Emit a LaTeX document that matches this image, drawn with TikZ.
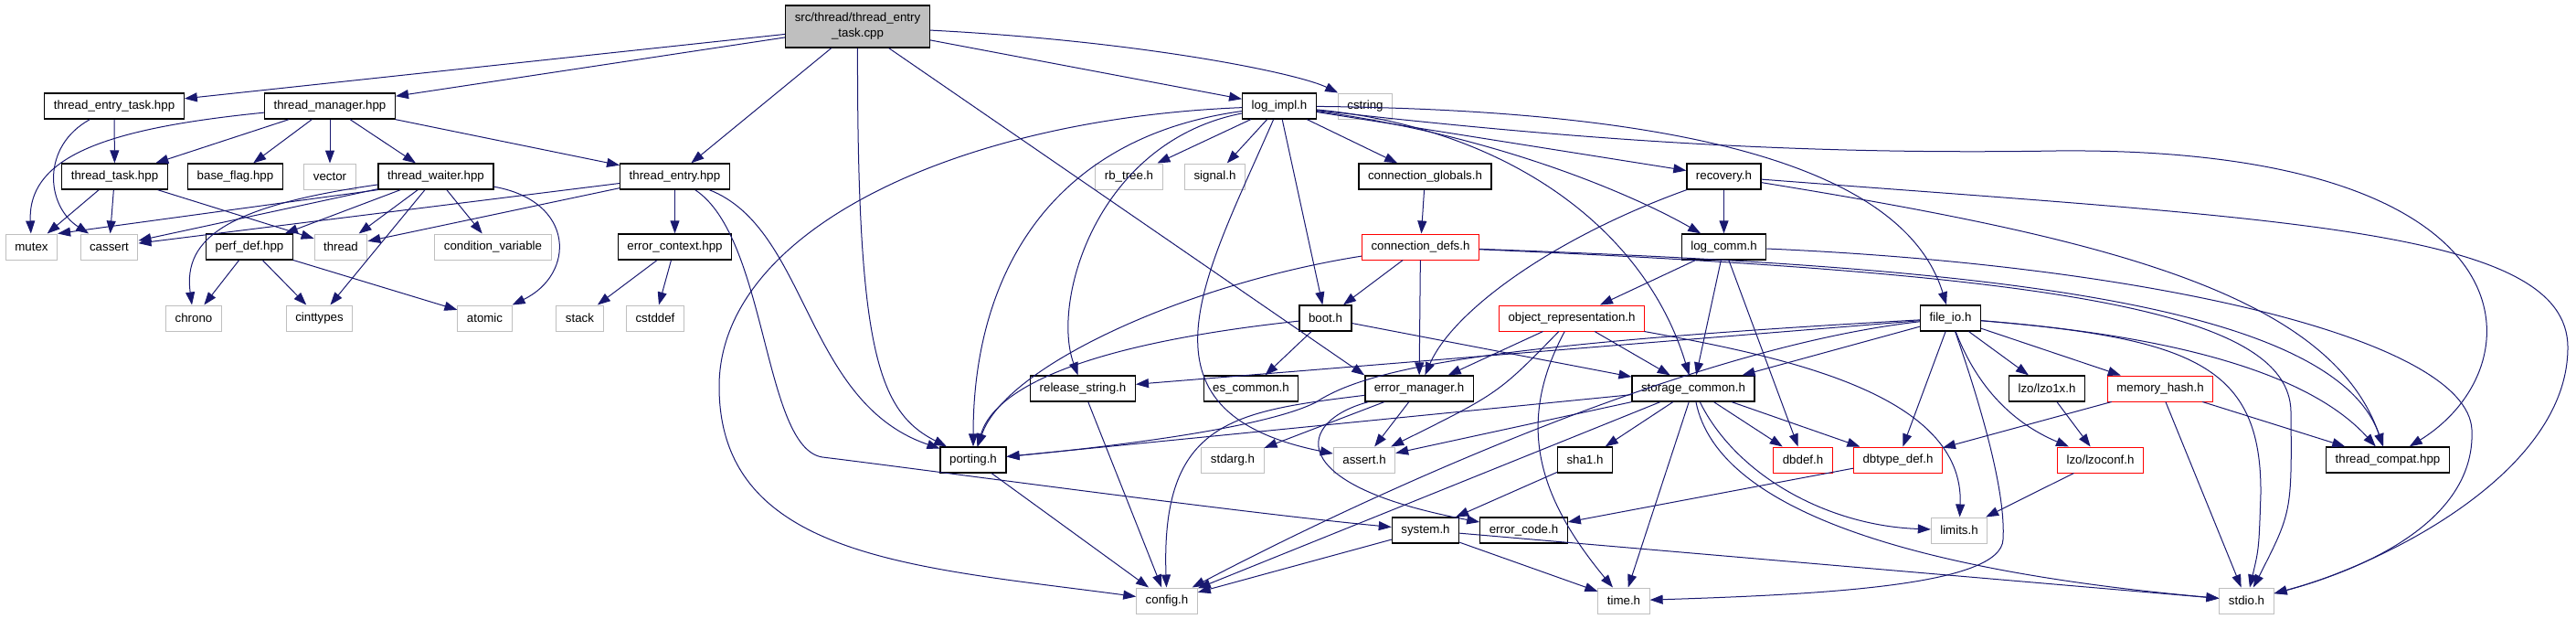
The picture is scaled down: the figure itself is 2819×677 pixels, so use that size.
\documentclass[tikz,border=0pt]{standalone}
\usepackage{fontspec}
\setmainfont{Liberation Sans}
\usetikzlibrary{arrows.meta}
\definecolor{edgeblue}{HTML}{191970}
\definecolor{extgray}{HTML}{BFBFBF}
\tikzset{
  >={Triangle[length=14pt,width=10pt]},
  every node/.style={font=\fontsize{13.3}{17}\selectfont},
  hdr/.style={draw=black,fill=white,line width=1.3pt,minimum height=28pt,inner xsep=10pt,inner ysep=0pt},
  ext/.style={hdr,draw=extgray,line width=1pt},
  trunc/.style={hdr,draw=red,line width=1pt},
  dep/.style={->,color=edgeblue,line width=1pt},
}

\begin{document}
\begin{tikzpicture}[x=1pt,y=-1pt]
  \useasboundingbox (0,0) rectangle (2819,677);

  \node[hdr,fill=extgray,align=center,minimum height=46pt] (root) at (938.5,29) {src/thread/thread\_entry\\\_task.cpp};

  \node[hdr] (tet) at (125,116) {thread\_entry\_task.hpp};
  \node[hdr] (tman) at (361,116) {thread\_manager.hpp};
  \node[hdr] (logimpl) at (1400,116) {log\_impl.h};
  \node[ext] (cstring) at (1494,116) {cstring};

  \node[hdr] (ttask) at (125.5,193) {thread\_task.hpp};
  \node[hdr] (bflag) at (257.5,193) {base\_flag.hpp};
  \node[ext] (vector) at (361,193) {vector};
  \node[hdr] (twaiter) at (477,193) {thread\_waiter.hpp};
  \node[hdr] (tentry) at (738.5,193) {thread\_entry.hpp};
  \node[ext] (rbtree) at (1235.5,193) {rb\_tree.h};
  \node[ext] (signal) at (1329.5,193) {signal.h};
  \node[hdr] (cglobals) at (1559.5,193) {connection\_globals.h};
  \node[hdr] (recovery) at (1886.5,193) {recovery.h};

  \node[ext] (mutex) at (34.5,270) {mutex};
  \node[ext] (cassert) at (119.5,270) {cassert};
  \node[hdr] (perfdef) at (273,270) {perf\_def.hpp};
  \node[ext] (thread) at (373,270) {thread};
  \node[ext] (condvar) at (539.5,270) {condition\_variable};
  \node[hdr] (errctx) at (738.5,270) {error\_context.hpp};
  \node[trunc] (cdefs) at (1554.5,270) {connection\_defs.h};
  \node[hdr] (logcomm) at (1886.5,270) {log\_comm.h};

  \node[ext] (chrono) at (212,348) {chrono};
  \node[ext] (cinttypes) at (349.5,348) {cinttypes};
  \node[ext] (atomic) at (530.5,348) {atomic};
  \node[ext] (stack) at (634.5,348) {stack};
  \node[ext] (cstddef) at (717,348) {cstddef};
  \node[hdr] (boot) at (1450.5,348) {boot.h};
  \node[trunc] (objrep) at (1720,348) {object\_representation.h};
  \node[hdr] (fileio) at (2134.5,348) {file\_io.h};

  \node[hdr] (relstr) at (1185,425) {release\_string.h};
  \node[hdr] (escommon) at (1369,425) {es\_common.h};
  \node[hdr] (errmgr) at (1553,425) {error\_manager.h};
  \node[hdr] (storage) at (1853,425) {storage\_common.h};
  \node[hdr] (lzo1x) at (2240,425) {lzo/lzo1x.h};
  \node[trunc] (memhash) at (2364,425) {memory\_hash.h};

  \node[hdr] (porting) at (1065,503) {porting.h};
  \node[ext] (stdarg) at (1349,503) {stdarg.h};
  \node[ext] (asserth) at (1493,503) {assert.h};
  \node[hdr] (sha1) at (1734.5,503) {sha1.h};
  \node[trunc] (dbdef) at (1973,503) {dbdef.h};
  \node[trunc] (dbtype) at (2077,503) {dbtype\_def.h};
  \node[trunc] (lzoconf) at (2298.5,503) {lzo/lzoconf.h};
  \node[hdr] (tcompat) at (2613,503) {thread\_compat.hpp};

  \node[hdr] (systemh) at (1560,580) {system.h};
  \node[hdr] (errcode) at (1667.5,580) {error\_code.h};
  \node[ext] (limits) at (2144,580) {limits.h};

  \node[ext] (config) at (1277,657) {config.h};
  \node[ext] (timeh) at (1777,657) {time.h};
  \node[ext] (stdio) at (2458.5,657) {stdio.h};

  \foreach \a/\b in {root/tet, root/tman, root/tentry, root/logimpl,
      tet/ttask, tman/ttask, tman/bflag, tman/vector, tman/twaiter, tman/tentry,
      ttask/mutex, ttask/cassert, ttask/thread,
      twaiter/cassert, twaiter/perfdef, twaiter/thread, twaiter/cinttypes, twaiter/condvar,
      tentry/cassert, tentry/thread, tentry/errctx,
      perfdef/chrono, perfdef/cinttypes, perfdef/atomic, errctx/stack, errctx/cstddef,
      logimpl/rbtree, logimpl/signal, logimpl/cglobals, logimpl/recovery, logimpl/boot,
      cglobals/cdefs, cdefs/boot, cdefs/errmgr, recovery/logcomm,
      logcomm/objrep, logcomm/storage, logcomm/dbdef,
      boot/escommon, boot/storage, objrep/errmgr, objrep/storage,
      fileio/storage, fileio/lzo1x, fileio/memhash, fileio/dbtype, fileio/relstr,
      storage/asserth, storage/sha1, storage/dbdef, storage/dbtype, storage/timeh,
      storage/config, storage/porting,
      errmgr/stdarg, errmgr/asserth, lzo1x/lzoconf, lzoconf/limits,
      memhash/dbtype, memhash/tcompat, memhash/stdio, dbtype/errcode,
      sha1/systemh, systemh/config, systemh/timeh, systemh/stdio,
      porting/config, relstr/config}
    \draw[dep] (\a) -- (\b);

  \draw[dep] (root) -- (errmgr.north west);
  \draw[dep] (twaiter.south west) -- (mutex.north east);
  \draw[dep] (root) .. controls (1250,45) and (1420,80) .. (cstring);
  \draw[dep] (root) .. controls (938,380) and (960,450) .. (porting);
  \draw[dep] (tet) .. controls (45,160) and (50,225) .. (cassert);
  \draw[dep] (tman) .. controls (120,140) and (30,170) .. (mutex);
  \draw[dep] (twaiter) .. controls (250,225) and (200,260) .. (chrono);
  \draw[dep] (twaiter) .. controls (630,220) and (630,300) .. (atomic);
  \draw[dep] (tentry) .. controls (885,250) and (880,440) .. (porting);
  \draw[dep] (tentry) .. controls (840,260) and (835,490) .. (900,500) .. controls (1000,512) and (1350,560) .. (systemh);

  \draw[dep] (logimpl) .. controls (1650,150) and (1800,220) .. (logcomm);
  \draw[dep] (logimpl) .. controls (1800,120) and (2080,170) .. (fileio);
  \draw[dep] (logimpl) .. controls (1700,150) and (1950,170) .. (2250,165) .. controls (2780,160) and (2780,400) .. (tcompat);
  \draw[dep] (logimpl) .. controls (1650,140) and (1800,250) .. (storage);
  \draw[dep] (logimpl) .. controls (1320,300) and (1230,450) .. (asserth);
  \draw[dep] (logimpl) .. controls (1150,150) and (1065,300) .. (porting);
  \draw[dep] (logimpl) .. controls (1200,155) and (1150,330) .. (relstr);
  \draw[dep] (logimpl) .. controls (1050,130) and (790,250) .. (787,420) .. controls (785,610) and (1000,620) .. (config);

  \draw[dep] (cdefs) .. controls (1300,310) and (1100,400) .. (porting);
  \draw[dep] (cdefs) .. controls (2100,290) and (2550,320) .. (tcompat);
  \draw[dep] (cdefs) .. controls (2250,300) and (2505,340) .. (2507,450) .. controls (2508,560) .. (stdio);
  \draw[dep] (recovery) .. controls (1700,260) and (1590,340) .. (errmgr);
  \draw[dep] (recovery) .. controls (2500,240) and (2810,250) .. (2810,380) .. controls (2810,520) and (2600,620) .. (stdio);
  \draw[dep] (recovery) .. controls (2300,260) and (2550,320) .. (tcompat);
  \draw[dep] (logcomm) .. controls (2350,290) and (2700,370) .. (2705,470) .. controls (2710,580) and (2560,630) .. (stdio);

  \draw[dep] (boot) .. controls (1200,375) and (1090,420) .. (porting);
  \draw[dep] (objrep) .. controls (1660,460) and (1680,540) .. (timeh);
  \draw[dep] (objrep) .. controls (1950,390) and (2150,430) .. (limits);
  \draw[dep] (objrep) .. controls (1640,430) .. (asserth);

  \draw[dep] (fileio) .. controls (2170,450) and (2195,540) .. (2192,590) .. controls (2190,640) and (2000,650) .. (timeh);
  \draw[dep] (fileio) .. controls (2170,440) and (2220,470) .. (lzoconf);
  \draw[dep] (fileio) .. controls (2350,365) and (2520,400) .. (tcompat);
  \draw[dep] (fileio) .. controls (2400,370) and (2475,400) .. (2474,540) .. controls (2472,600) .. (stdio);
  \draw[dep] (fileio) .. controls (1650,375) and (1500,400) .. (1440,440) .. controls (1380,470) and (1200,490) .. (porting);
  \draw[dep] (fileio) .. controls (1850,380) and (1500,540) .. (config);

  \draw[dep] (storage) .. controls (1900,520) and (2000,575) .. (limits);
  \draw[dep] (storage) .. controls (1880,560) and (2100,625) .. (stdio);
  \draw[dep] (errmgr) .. controls (1420,460) and (1400,530) .. (errcode);
  \draw[dep] (errmgr) .. controls (1350,450) and (1270,460) .. (config);
\end{tikzpicture}
\end{document}
